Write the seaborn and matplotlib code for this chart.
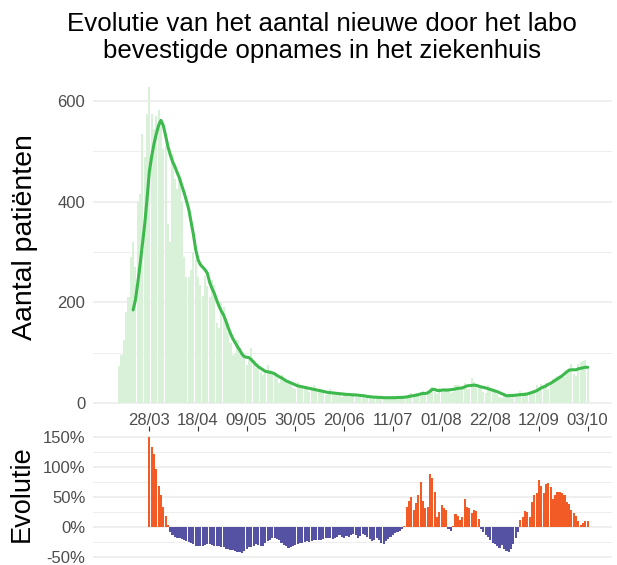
import numpy as np
import pandas as pd
import matplotlib
matplotlib.use("Agg")
import matplotlib.pyplot as plt
import seaborn as sns
from matplotlib.ticker import FixedLocator, FuncFormatter

# ---------------- data ----------------
# daily new lab-confirmed admissions, starting 15/03 (day 0)
daily = [
    73, 95, 125, 180, 210, 290, 320, 270, 400, 415,
    535, 490, 575, 629, 575, 545, 570, 583, 560, 505,
    510, 355, 320, 495, 445, 425, 445, 400, 290, 250,
    250, 265, 300, 285, 250, 235, 213, 252, 232, 210,
    245, 235, 160, 150, 200, 190, 160, 140, 120, 95,
    100, 125, 110, 100, 90, 75, 85, 110, 85, 70,
    80, 62, 55, 60, 75, 65, 58, 62, 50, 40,
    55, 48, 45, 40, 38, 30, 28, 42, 35, 30,
    33, 28, 22, 25, 35, 30, 26, 28, 22, 15,
    18, 28, 24, 20, 21, 15, 12, 22, 20, 18,
    17, 19, 12, 11, 18, 17, 15, 14, 12, 8,
    9, 14, 13, 11, 12, 10, 7, 9, 13, 11,
    12, 14, 10, 8, 12, 17, 19, 18, 20, 14,
    16, 24, 22, 25, 30, 32, 22, 18, 30, 28,
    27, 30, 26, 20, 22, 36, 35, 30, 33, 40,
    27, 28, 50, 42, 38, 35, 32, 22, 20, 35,
    25, 25, 22, 18, 12, 10, 20, 15, 17, 14,
    18, 14, 12, 24, 20, 22, 18, 20, 18, 26,
    35, 32, 38, 36, 40, 28, 40, 48, 50, 53,
    55, 58, 52, 62, 70, 78, 58, 54, 78, 82,
    84, 85, 73,
]

# 7-day average line, starting 21/03 (day 6)
avg_start = 6
avg7 = [
    185, 205, 238, 275, 315, 355, 405, 460, 490, 515,
    535, 552, 562, 552, 532, 510, 494, 480, 470, 458,
    447, 432, 418, 402, 385, 360, 335, 305, 285, 275,
    270, 265, 258, 240, 228, 218, 205, 193, 183, 175,
    163, 150, 138, 128, 120, 112, 105, 97, 92, 91,
    90, 86, 81, 76, 72, 69, 66, 63, 62, 61,
    60, 58, 55, 52, 50, 47, 44, 42, 40, 38,
    36, 34, 33, 32, 31, 30, 29, 28, 27, 26,
    25, 24, 23, 22, 21, 20.5, 20, 19.5, 19, 18.5,
    18, 17.5, 17, 17, 16.5, 16, 16, 15.5, 15, 14.5,
    14, 13, 12.5, 12, 11.5, 11.5, 11, 11, 10.5, 10.5,
    10.5, 10.5, 10.5, 10.5, 11, 11, 11, 11.5, 12, 13,
    14, 14.5, 15.5, 16.5, 18, 19, 19, 20, 23, 27,
    27, 25, 24.5, 25.5, 26, 25.5, 26, 26.5, 27, 28,
    29, 29.5, 30, 32, 34, 34.5, 35, 35.5, 35, 33.5,
    32, 31, 30, 28.5, 27, 25.5, 24, 22.5, 20.5, 18.5,
    16.5, 14.5, 14.5, 15, 15, 15.5, 16, 16.5, 17, 17,
    18, 19.5, 21, 22.5, 24.5, 27, 30, 32, 34, 37,
    39, 42, 45, 48, 51, 54, 58, 62, 65, 66,
    66, 66, 68, 69, 70, 71, 71,
]

# week-over-week evolution (%), starting 28/03 (day 13)
evo_start = 13
evolution = [
    150, 134, 122, 96, 69, 53, 34, 18, 4,
    -8, -13, -16, -18, -19, -20, -21, -23, -25, -27,
    -29, -31, -32, -31, -31, -30, -29, -29, -30, -31,
    -32, -31, -33, -34, -36, -37, -38, -39, -40, -41,
    -42, -43, -40, -37, -34, -33, -31, -29, -30, -31,
    -31, -27, -24, -22, -19, -18, -20, -22, -26, -30,
    -32, -35, -34, -31, -30, -28, -27, -26, -25, -24,
    -25, -23, -22, -22, -21, -21, -20, -18, -19, -18,
    -20, -19, -16, -14, -17, -18, -15, -17, -14, -12,
    -14, -18, -15, -11, -13, -17, -20, -23, -21, -19,
    -22, -27, -29, -24, -20, -17, -14, -10, -8, -6,
    -3,
    2, 33, 44, 50, 28, 40, 53, 75, 44, 32, 33, 89, 82, 58, 17, 25, 36, 31, 28,
    -3, -7, 1,
    21, 19, 11, 16, 47, 34, 32, 23, 28, 27, 14,
    -4, -9, -13, -17, -22, -27, -28, -31, -35, -30, -37, -40, -42, -36, -28, -19, -8,
    11, 16, 27, 25, 16, 42, 54, 57, 78, 68, 57, 71, 73, 66, 47, 54, 58, 58,
    57, 54, 42, 38, 29, 23, 18, 10, 4, 7, 10, 10,
]

tick_days = [13, 34, 55, 76, 97, 118, 139, 160, 181, 202]
tick_labels = ["28/03", "18/04", "09/05", "30/05", "20/06",
               "11/07", "01/08", "22/08", "12/09", "03/10"]

title_text = "Evolutie van het aantal nieuwe door het labo\nbevestigde opnames in het ziekenhuis"
ylabel_top = "Aantal patiënten"
ylabel_bottom = "Evolutie"

# ---------------- frames ----------------
df_daily = pd.DataFrame({"day": np.arange(len(daily)), "n": daily})
df_avg = pd.DataFrame({"day": np.arange(avg_start, avg_start + len(avg7)), "avg": avg7})
df_evo = pd.DataFrame({"day": np.arange(evo_start, evo_start + len(evolution)),
                       "evo": evolution})
df_evo["sign"] = np.where(df_evo["evo"] >= 0, "pos", "neg")

# ---------------- style ----------------
sns.set_style("white")
plt.rcParams["font.family"] = ["Liberation Sans", "DejaVu Sans"]

BAR_GREEN = "#d9f1d9"
LINE_GREEN = "#3db94d"
ORANGE = "#f25b26"
BLUE = "#5551a3"
GRID = "#ebebeb"
TICK_TXT = "#4d4d4d"

fig = plt.figure(figsize=(6.17, 5.65), dpi=100)
ax1 = fig.add_axes([0.1507, 0.2832, 0.8412, 0.5911])
ax2 = fig.add_axes([0.1507, 0.0089, 0.8412, 0.2283])

xlim = (13 - 24.3, 13 + 199.5)

# top panel
sns.barplot(data=df_daily, x="day", y="n", native_scale=True, color=BAR_GREEN,
            width=0.9, saturation=1, errorbar=None, linewidth=0, edgecolor="none",
            ax=ax1, zorder=2)
sns.lineplot(data=df_avg, x="day", y="avg", color=LINE_GREEN, linewidth=2.2,
             ax=ax1, zorder=3)
ax1.set_xlim(*xlim)
ax1.set_ylim(-4, 660)
ax1.yaxis.set_major_locator(FixedLocator([0, 200, 400, 600]))
ax1.yaxis.set_minor_locator(FixedLocator([100, 300, 500]))
ax1.xaxis.set_major_locator(FixedLocator(tick_days))
ax1.set_xticklabels(tick_labels)
ax1.grid(which="major", axis="y", color=GRID, linewidth=1.1, zorder=0)
ax1.grid(which="minor", axis="y", color=GRID, linewidth=0.6, zorder=0)
ax1.grid(which="major", axis="x", visible=False)
ax1.set_axisbelow(True)
ax1.set_xlabel("")
ax1.set_ylabel("")

# bottom panel
sns.barplot(data=df_evo, x="day", y="evo", hue="sign",
            palette={"pos": ORANGE, "neg": BLUE}, native_scale=True, dodge=False,
            width=0.9, saturation=1, errorbar=None, legend=False,
            linewidth=0, edgecolor="none", ax=ax2, zorder=2)
ax2.set_xlim(*xlim)
ax2.set_ylim(-55, 160)
ax2.yaxis.set_major_locator(FixedLocator([-50, 0, 50, 100, 150]))
ax2.yaxis.set_minor_locator(FixedLocator([-25, 25, 75, 125]))
ax2.yaxis.set_major_formatter(FuncFormatter(lambda v, _: f"{int(v)}%"))
ax2.xaxis.set_major_locator(FixedLocator(tick_days))
ax2.xaxis.tick_top()
ax2.tick_params(axis="x", labeltop=False, labelbottom=False)
ax2.grid(which="major", axis="y", color=GRID, linewidth=1.1, zorder=0)
ax2.grid(which="minor", axis="y", color=GRID, linewidth=0.6, zorder=0)
ax2.grid(which="major", axis="x", visible=False)
ax2.set_axisbelow(True)
ax2.set_xlabel("")
ax2.set_ylabel("")

for ax in (ax1, ax2):
    for s in ax.spines.values():
        s.set_visible(False)
    ax.tick_params(axis="both", which="major", length=3.5, width=0.8,
                   color="#333333", labelcolor=TICK_TXT, labelsize=12, pad=2)
    ax.tick_params(axis="both", which="minor", length=0)

fig.text(0.522, 0.933, title_text, ha="center", va="center", fontsize=18.6,
         color="black", linespacing=1.15)
fig.text(0.041, 0.581, ylabel_top, rotation=90, ha="center", va="center",
         fontsize=20.5, color="black")
fig.text(0.036, 0.126, ylabel_bottom, rotation=90, ha="center", va="center",
         fontsize=19.5, color="black")

fig.savefig("out.png", dpi=100)
